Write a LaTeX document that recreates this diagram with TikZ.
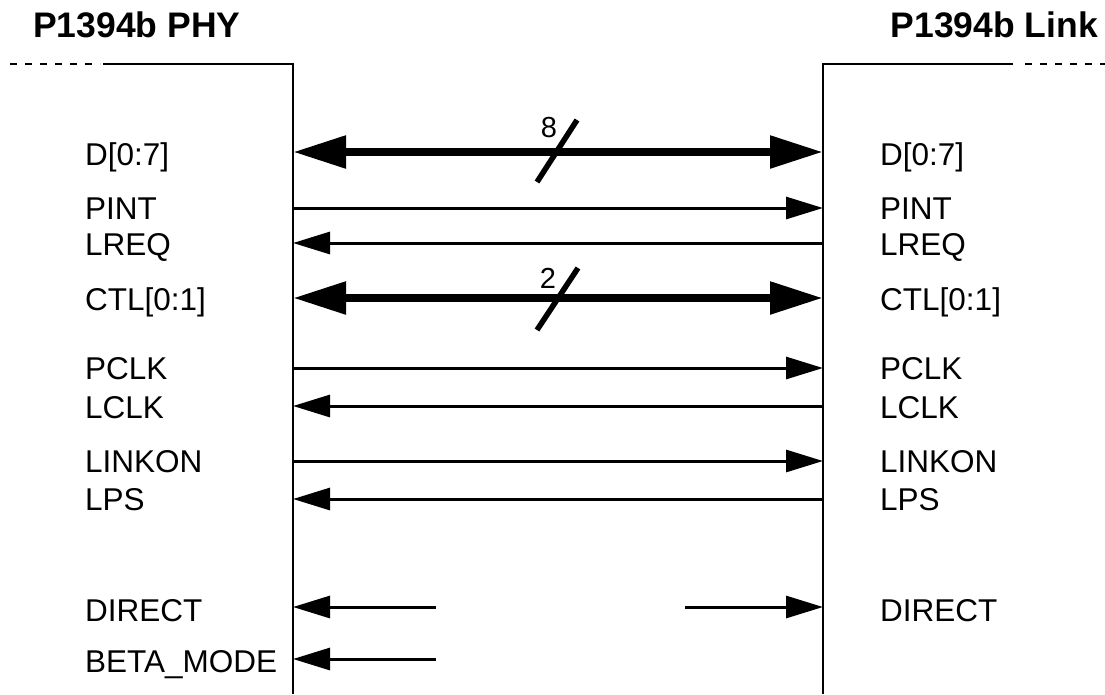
\documentclass[tikz,border=0pt]{standalone}
\usepackage{fontspec}
\setmainfont{Liberation Sans}
\usetikzlibrary{arrows.meta,calc}
\begin{document}
\begin{tikzpicture}[x=1pt,y=-1pt,
  box/.style={line width=2.4pt, line join=miter},
  boxdash/.style={line width=2.4pt, dash pattern=on 7pt off 8pt},
  sig/.style={line width=3pt, -{Triangle[length=37pt,width=22pt]}},
  bus/.style={line width=8.5pt, {Triangle[length=53pt,width=31pt]}-{Triangle[length=53pt,width=31pt]}},
  slashline/.style={line width=5.5pt, line cap=butt},
  lbl/.style={anchor=base west, inner sep=0pt, font=\fontsize{31.5}{31.5}\selectfont},
  ttl/.style={inner sep=0pt, font=\fontsize{35.5}{35.5}\selectfont\bfseries},
  num/.style={inner sep=0pt, font=\fontsize{29}{29}\selectfont}]
\useasboundingbox (0,0) rectangle (1105,694);

% titles
\node[ttl, anchor=base west] (tphy) at (33,37) {P1394b PHY};
\node[ttl, anchor=base east] (tlink) at (1098,37) {P1394b Link};

% boxes
\draw[box] (103,64) -- (293,64) -- (293,694);
\draw[boxdash] (10,64) -- (100,64);
\draw[box] (1013,64) -- (823,64) -- (823,694);
\draw[boxdash] (1025,64) -- (1105,64);

% row coordinates
\foreach \n/\y in {d/152, pint/208, lreq/243, ctl/298, pclk/368, lclk/406, linkon/461, lps/499, dir/607, beta/659}{
  \coordinate (L\n) at (293,\y);
  \coordinate (R\n) at (823,\y);
}
\coordinate (Ldirend) at (436,607);
\coordinate (Rdirend) at (685,607);
\coordinate (Lbetaend) at (436,659);

% left labels
\node[lbl] (ld) at (85,165) {D[0:7]};
\node[lbl] (lpint) at (85,219) {PINT};
\node[lbl] (llreq) at (85,255) {LREQ};
\node[lbl] (lctl) at (85,310) {CTL[0:1]};
\node[lbl] (lpclk) at (85,379) {PCLK};
\node[lbl] (llclk) at (85,418) {LCLK};
\node[lbl] (llinkon) at (85,472) {LINKON};
\node[lbl] (llps) at (85,510) {LPS};
\node[lbl] (ldir) at (85,621) {DIRECT};
\node[lbl] (lbeta) at (85,672) {BETA\_MODE};

% right labels
\node[lbl] (rd) at (880,165) {D[0:7]};
\node[lbl] (rpint) at (880,219) {PINT};
\node[lbl] (rlreq) at (880,255) {LREQ};
\node[lbl] (rctl) at (880,310) {CTL[0:1]};
\node[lbl] (rpclk) at (880,379) {PCLK};
\node[lbl] (rlclk) at (880,418) {LCLK};
\node[lbl] (rlinkon) at (880,472) {LINKON};
\node[lbl] (rlps) at (880,510) {LPS};
\node[lbl] (rdir) at (880,621) {DIRECT};

% buses
\draw[bus] (Ld) -- (Rd);
\draw[bus] (Lctl) -- (Rctl);
\draw[slashline] (537,182) -- (577,120);
\draw[slashline] (537,330) -- (578,268);
\node[num] (n8) at (549,128) {8};
\node[num] (n2) at (548,278) {2};

% signals
\draw[sig] (Lpint) -- (Rpint);
\draw[sig] (Rlreq) -- (Llreq);
\draw[sig] (Lpclk) -- (Rpclk);
\draw[sig] (Rlclk) -- (Llclk);
\draw[sig] (Llinkon) -- (Rlinkon);
\draw[sig] (Rlps) -- (Llps);
\draw[sig] (Ldirend) -- (Ldir);
\draw[sig] (Rdirend) -- (Rdir);
\draw[sig] (Lbetaend) -- (Lbeta);
\end{tikzpicture}
\end{document}
